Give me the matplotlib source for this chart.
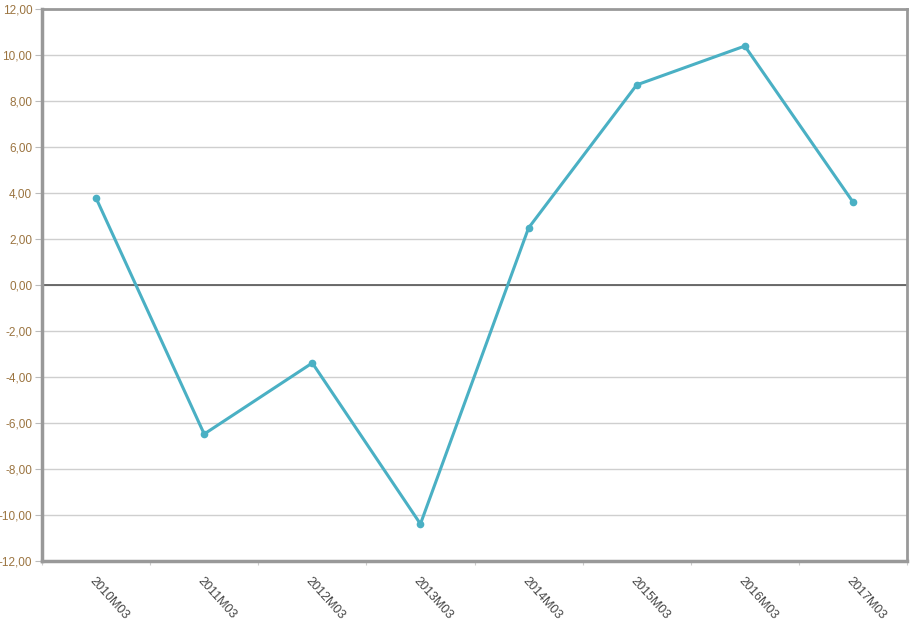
import numpy as np
from matplotlib import pyplot as plt

categories = ['2010M03', '2011M03', '2012M03', '2013M03', '2014M03', '2015M03', '2016M03', '2017M03']
values = [3.78, -6.48, -3.39, -10.39, 2.48, 8.70, 10.39, 3.61]
y_ticks = np.arange(-12, 13, 2)

plt.rcParams['font.family'] = ['Liberation Sans', 'DejaVu Sans']

fig = plt.figure(figsize=(9.19, 6.34), dpi=100)
ax = fig.add_axes([42/919, 1 - 561/634, 865/919, 552/634])

x = np.arange(len(categories))
ax.set_xlim(-0.5, len(categories) - 0.5)
ax.set_ylim(-12, 12)

ax.set_yticks(y_ticks)
ax.set_yticklabels([('%.2f' % v).replace('.', ',') for v in y_ticks], fontsize=8.5, color='#9b7440')
for v in y_ticks:
    ax.axhline(v, color='#cfcfcf', linewidth=1, zorder=1)
ax.axhline(0, color='#555555', linewidth=1.2, zorder=2)

ax.plot(x, values, color='#4ab0c4', linewidth=2.2, marker='o', markersize=4.5, zorder=3)

# ticks between categories, labels at category centres
ax.set_xticks(np.arange(len(categories) + 1) - 0.5)
ax.set_xticklabels([])
ax.set_xticks(x, minor=True)
ax.set_xticklabels(categories, minor=True, rotation=-48, ha='left', va='top',
                   fontsize=9, color='#444444', rotation_mode='anchor')
ax.tick_params(axis='x', which='minor', length=0, pad=10)
ax.tick_params(axis='x', which='major', length=3, color='#cccccc', direction='out')
ax.tick_params(axis='y', length=5, color='#bbbbbb', pad=2)

for side in ['left', 'bottom']:
    ax.spines[side].set_color('#999999')
    ax.spines[side].set_linewidth(2.5)
for side in ['top', 'right']:
    ax.spines[side].set_color('#999999')
    ax.spines[side].set_linewidth(2)

plt.savefig('out.png', dpi=100)
